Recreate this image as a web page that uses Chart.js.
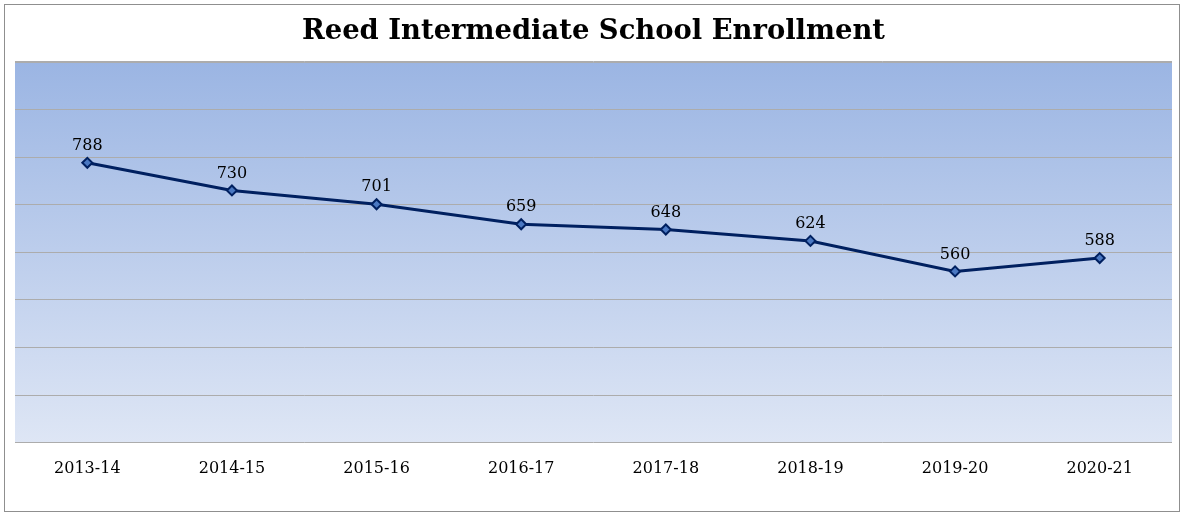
<!DOCTYPE html>
<html>
<head>
<meta charset="utf-8">
<script src="https://cdn.jsdelivr.net/npm/chart.js@4"></script>
<style>
html,body{margin:0;padding:0;background:#fff;}
#wrap{width:1184px;height:516px;position:relative;}
</style>
</head>
<body>
<div id="wrap"><canvas id="c" width="1184" height="516"></canvas></div>
<script>
const categories = ["2013-14","2014-15","2015-16","2016-17","2017-18","2018-19","2019-20","2020-21"];
const enrollment = [788, 730, 701, 659, 648, 624, 560, 588];
const yMin = 200, yMax = 1000, yStep = 100;
const chartTitle = "Reed Intermediate School Enrollment";
const gridColor = '#acacac';

const bgPlugin = {
  id: 'bg',
  beforeDraw(chart) {
    const {ctx, chartArea: a} = chart;
    ctx.save();
    ctx.fillStyle = '#ffffff';
    ctx.fillRect(0, 0, chart.width, chart.height);
    const g = ctx.createLinearGradient(0, a.top, 0, a.bottom);
    g.addColorStop(0, '#9bb5e3');
    g.addColorStop(1, '#dee6f5');
    ctx.fillStyle = g;
    ctx.fillRect(a.left, a.top, a.right - a.left, a.bottom - a.top);
    ctx.strokeStyle = '#8f8f8f';
    ctx.lineWidth = 1;
    ctx.strokeRect(4.5, 4.5, chart.width - 9, chart.height - 9);
    ctx.restore();
  },
  beforeDatasetsDraw(chart) {
    const {ctx, chartArea: a} = chart;
    ctx.save();
    ctx.strokeStyle = gridColor;
    ctx.lineWidth = 1;
    ctx.beginPath();
    ctx.moveTo(a.left, Math.round(a.top) + 0.5);
    ctx.lineTo(a.right, Math.round(a.top) + 0.5);
    ctx.stroke();
    ctx.restore();
  }
};

const labelPlugin = {
  id: 'dlabels',
  afterDatasetsDraw(chart) {
    const {ctx} = chart;
    const meta = chart.getDatasetMeta(0);
    ctx.save();
    ctx.font = '16px "DejaVu Serif"';
    ctx.fillStyle = '#000';
    ctx.textAlign = 'center';
    ctx.textBaseline = 'bottom';
    meta.data.forEach((pt, i) => {
      ctx.fillText(String(chart.data.datasets[0].data[i]), pt.x, pt.y - 9);
    });
    ctx.restore();
  }
};

new Chart(document.getElementById('c'), {
  type: 'line',
  data: {
    labels: categories,
    datasets: [{
      data: enrollment,
      borderColor: '#002060',
      borderWidth: 3,
      pointStyle: 'rectRot',
      pointRadius: 5,
      pointBorderWidth: 2,
      pointBorderColor: '#002060',
      pointBackgroundColor: '#4a78c2',
      tension: 0
    }]
  },
  options: {
    responsive: false,
    animation: false,
    layout: {padding: {left: 15, right: 12, top: 15, bottom: 30}},
    plugins: {
      legend: {display: false},
      tooltip: {enabled: false},
      title: {
        display: true,
        text: chartTitle,
        color: '#000',
        font: {family: '"DejaVu Serif"', size: 27.4, weight: 'bold'},
        padding: {top: 0, bottom: 14}
      }
    },
    scales: {
      x: {
        offset: true,
        grid: {display: false},
        border: {display: false},
        ticks: {color: '#000', font: {family: '"DejaVu Serif"', size: 16}, padding: 8}
      },
      y: {
        min: yMin, max: yMax,
        ticks: {display: false, stepSize: yStep},
        grid: {color: gridColor, lineWidth: 1, drawTicks: false},
        border: {display: false}
      }
    }
  },
  plugins: [bgPlugin, labelPlugin]
});
</script>
</body>
</html>
